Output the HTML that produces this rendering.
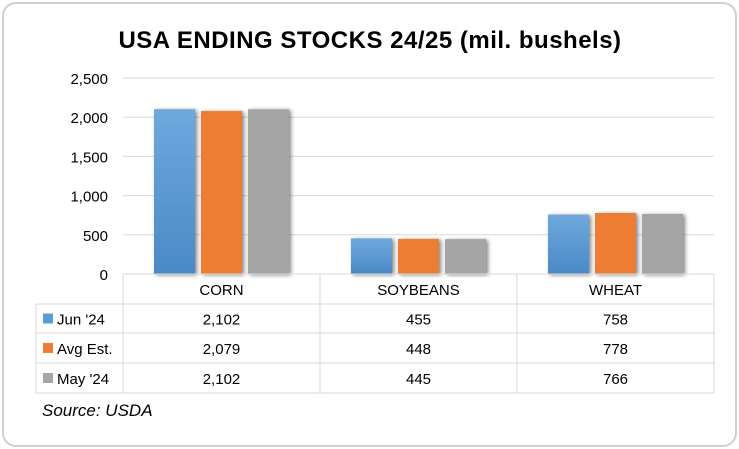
<!DOCTYPE html>
<html><head><meta charset="utf-8"><style>
body{margin:0;background:#fff;font-family:"Liberation Sans",sans-serif}
#card{position:absolute;left:2px;top:2px;width:731px;height:441px;border:2px solid #d0d0d0;border-radius:14px;background:#fff}
</style></head><body>
<div id="card"></div>
<svg id="c" width="739" height="449" style="position:absolute;left:0;top:0">
<text x="370" y="48" text-anchor="middle" font-size="24" font-weight="bold" letter-spacing="0.5" fill="#000">USA ENDING STOCKS 24/25 (mil. bushels)</text>
<text x="42" y="416" font-size="17" font-style="italic" fill="#000">Source: USDA</text>
<g id="g"></g>
</svg>
<script>
const categories=["CORN","SOYBEANS","WHEAT"];
const seriesNames=["Jun '24","Avg Est.","May '24"];
const jun=[2102,455,758];
const avg=[2079,448,778];
const may=[2102,445,766];
const yTicks=[0,500,1000,1500,2000,2500];
const yTickLabels=["0","500","1,000","1,500","2,000","2,500"];
const colors=["#5b9bd5","#ed7d31","#a5a5a5"];
const series=[jun,avg,may];
const NS="http://www.w3.org/2000/svg",g=document.getElementById('g');
const x0=123,x1=714,y0=274,yTop=78,yMax=2500;
const y=v=>y0-(v/yMax)*(y0-yTop);
const cw=(x1-x0)/categories.length;
function mk(t,a,txt){const e=document.createElementNS(NS,t);for(const k in a)e.setAttribute(k,a[k]);if(txt!=null)e.textContent=txt;g.appendChild(e);return e;}
const defs=mk('defs',{});
defs.innerHTML='<filter id="sh" x="-20%" y="-10%" width="140%" height="120%"><feGaussianBlur in="SourceAlpha" stdDeviation="2"/><feOffset dx="2" dy="1"/><feComponentTransfer><feFuncA type="linear" slope="0.5"/></feComponentTransfer><feMerge><feMergeNode/><feMergeNode in="SourceGraphic"/></feMerge></filter><linearGradient id="gb" x1="0" y1="0" x2="0" y2="1"><stop offset="0" stop-color="#6fa8dc"/><stop offset="1" stop-color="#4a89c8"/></linearGradient>';
yTicks.forEach((t,i)=>{
 const l=mk('line',{x1:x0,x2:x1,y1:y(t),y2:y(t),stroke:'#d9d9d9','stroke-width':1});
 
 const tx=mk('text',{x:108,y:y(t)+6,'text-anchor':'end','font-size':15,fill:'#000'},yTickLabels[i]);
 
});
const bw=41,gap=6;
categories.forEach((c,ci)=>{
 const cx=x0+cw*(ci+0.5);
 series.forEach((s,si)=>{
  const bx=cx-(bw*1.5+gap)+si*(bw+gap);
  const r=mk('rect',{x:bx,y:y(s[ci]),width:bw,height:y0-y(s[ci]),fill:si==0?'url(#gb)':colors[si],filter:'url(#sh)'});
  
  
 });
});
const rows=[274,304,333,363,393];
const lx=36;
mk('line',{x1:x0,x2:x1,y1:rows[0],y2:rows[0],stroke:'#d9d9d9'});
for(let r=1;r<rows.length;r++) mk('line',{x1:lx,x2:x1,y1:rows[r],y2:rows[r],stroke:'#d9d9d9'});
for(let i=0;i<=categories.length;i++) mk('line',{x1:x0+cw*i,x2:x0+cw*i,y1:rows[0],y2:rows[4],stroke:'#d9d9d9'});
mk('line',{x1:lx,x2:lx,y1:rows[1],y2:rows[4],stroke:'#d9d9d9'});
categories.forEach((c,ci)=>{
 const t=mk('text',{x:x0+cw*(ci+0.5),y:295,'text-anchor':'middle','font-size':15},c);
 
});
series.forEach((s,si)=>{
 const ry=(rows[si+1]+rows[si+2])/2;
 const sw=mk('rect',{x:43,y:ry-5,width:10,height:10,fill:colors[si]});
 
 const lt=mk('text',{x:57,y:ry+6,'font-size':15},seriesNames[si]);
 
 s.forEach((v,ci)=>{
  const t=mk('text',{x:x0+cw*(ci+0.5),y:ry+6,'text-anchor':'middle','font-size':15},v.toLocaleString('en-US'));
  
 });
});
</script>
</body></html>
